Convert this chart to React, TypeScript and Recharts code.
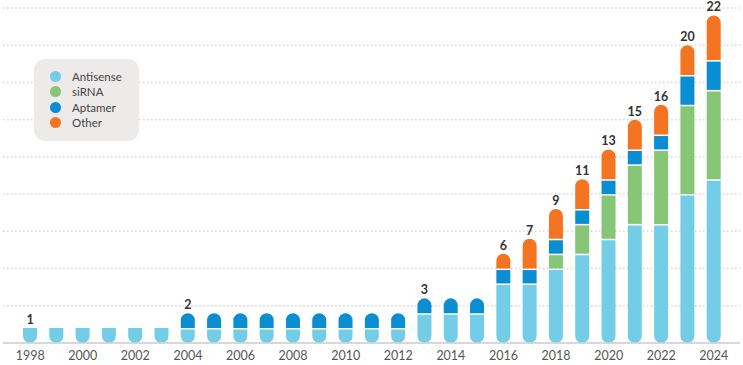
import React from "react";
import { BarChart, Bar, XAxis, YAxis, CartesianGrid, LabelList } from "recharts";

const years = [
  "1998", "1999", "2000", "2001", "2002", "2003", "2004", "2005", "2006", "2007",
  "2008", "2009", "2010", "2011", "2012", "2013", "2014", "2015", "2016", "2017",
  "2018", "2019", "2020", "2021", "2022", "2023", "2024",
];
const antisense = [1, 1, 1, 1, 1, 1, 1, 1, 1, 1, 1, 1, 1, 1, 1, 2, 2, 2, 4, 4, 5, 6, 7, 8, 8, 10, 11];
const sirna = [0, 0, 0, 0, 0, 0, 0, 0, 0, 0, 0, 0, 0, 0, 0, 0, 0, 0, 0, 0, 1, 2, 3, 4, 5, 6, 6];
const aptamer = [0, 0, 0, 0, 0, 0, 1, 1, 1, 1, 1, 1, 1, 1, 1, 1, 1, 1, 1, 1, 1, 1, 1, 1, 1, 2, 2];
const other = [0, 0, 0, 0, 0, 0, 0, 0, 0, 0, 0, 0, 0, 0, 0, 0, 0, 0, 1, 2, 2, 2, 2, 2, 2, 2, 3];
// totals are only printed where the count changes
const totalLabels = ["1", "", "", "", "", "", "2", "", "", "", "", "", "", "", "", "3", "", "", "6", "7", "9", "11", "13", "15", "16", "20", "22"];
const gridTicks = [0, 2.5, 5, 7.5, 10, 12.5, 15, 17.5, 20, 22.5];

const series = [
  { key: "antisense", name: "Antisense", color: "#74CDE6" },
  { key: "sirna", name: "siRNA", color: "#86C676" },
  { key: "aptamer", name: "Aptamer", color: "#0A8ED1" },
  { key: "other", name: "Other", color: "#F47421" },
];

const data = years.map((year, i) => ({
  year,
  antisense: antisense[i],
  sirna: sirna[i],
  aptamer: aptamer[i],
  other: other[i],
  label: totalLabels[i],
}));

const font = "Lato, 'Open Sans', sans-serif";

function makeShape(seriesIndex: number) {
  return (props: any) => {
    const { x, y, width, height, index, fill } = props;
    if (!height || height <= 0) return <g />;
    const row: any = data[index];
    const keys = series.map((s) => s.key);
    const above = keys.slice(seriesIndex + 1).some((k) => row[k] > 0);
    const isTop = !above;
    const roundTop = isTop && seriesIndex > 0;
    const r = width / 2;
    const bottom = y + height;
    // leave a thin white gap between stacked segments
    const segTop = isTop ? y : y + 1.5;
    const roundBottom = seriesIndex === 0;
    let d = "";
    if (roundTop) {
      d += `M${x},${segTop + r} A${r},${r} 0 0 1 ${x + width},${segTop + r}`;
    } else {
      d += `M${x},${segTop} L${x + width},${segTop}`;
    }
    if (roundBottom) {
      d += ` L${x + width},${bottom - r} A${r},${r} 0 0 1 ${x},${bottom - r} Z`;
    } else {
      d += ` L${x + width},${bottom} L${x},${bottom} Z`;
    }
    return <path d={d} fill={fill} />;
  };
}

const renderTotal = (props: any) => {
  const { x, y, width, index } = props;
  const text = totalLabels[index];
  if (!text) return null;
  return (
    <text
      x={x + width / 2}
      y={y - 4}
      textAnchor="middle"
      fill="#333"
      fontSize={12.5}
      fontWeight={700}
      fontFamily={font}
    >
      {text}
    </text>
  );
};

export default function App() {
  return (
    <div style={{ position: "relative", width: 743, height: 365 }}>
      <style>{`body{margin:0}`}</style>
      <BarChart
        width={743}
        height={365}
        data={data}
        margin={{ top: 8, right: 3, left: 3, bottom: 0 }}
        barSize={14}
      >
        <CartesianGrid
          vertical={false}
          stroke="#d6d6d6"
          strokeDasharray="1.5 2.5"
          strokeWidth={1.5}
        />
        <XAxis
          dataKey="year"
          interval={1}
          tickLine={false}
          axisLine={{ stroke: "#cfcfcf", strokeWidth: 1.5 }}
          tick={{ fill: "#555", fontSize: 12.5, fontFamily: font }}
          height={22}
          padding={{ left: 14, right: 13 }}
        />
        <YAxis hide domain={[0, 22.5]} ticks={gridTicks} />
        {series.map((s, i) => (
          <Bar
            key={s.key}
            dataKey={s.key}
            name={s.name}
            stackId="a"
            fill={s.color}
            isAnimationActive={false}
            shape={makeShape(i)}
          >
            {i === series.length - 1 && (
              <LabelList dataKey="label" content={renderTotal} />
            )}
          </Bar>
        ))}
      </BarChart>
      <div
        style={{
          position: "absolute",
          left: 34,
          top: 59,
          width: 105,
          height: 82,
          background: "#ECEBEA",
          borderRadius: 11,
          boxSizing: "border-box",
          padding: "10px 0 0 16px",
          fontFamily: font,
          fontSize: 11.5,
          color: "#444",
        }}
      >
        {series.map((s) => (
          <div key={s.key} style={{ display: "flex", alignItems: "center", height: 15.3 }}>
            <span
              style={{
                display: "inline-block",
                width: 11,
                height: 11,
                borderRadius: "50%",
                background: s.color,
                marginRight: 11,
              }}
            />
            <span>{s.name}</span>
          </div>
        ))}
      </div>
    </div>
  );
}
